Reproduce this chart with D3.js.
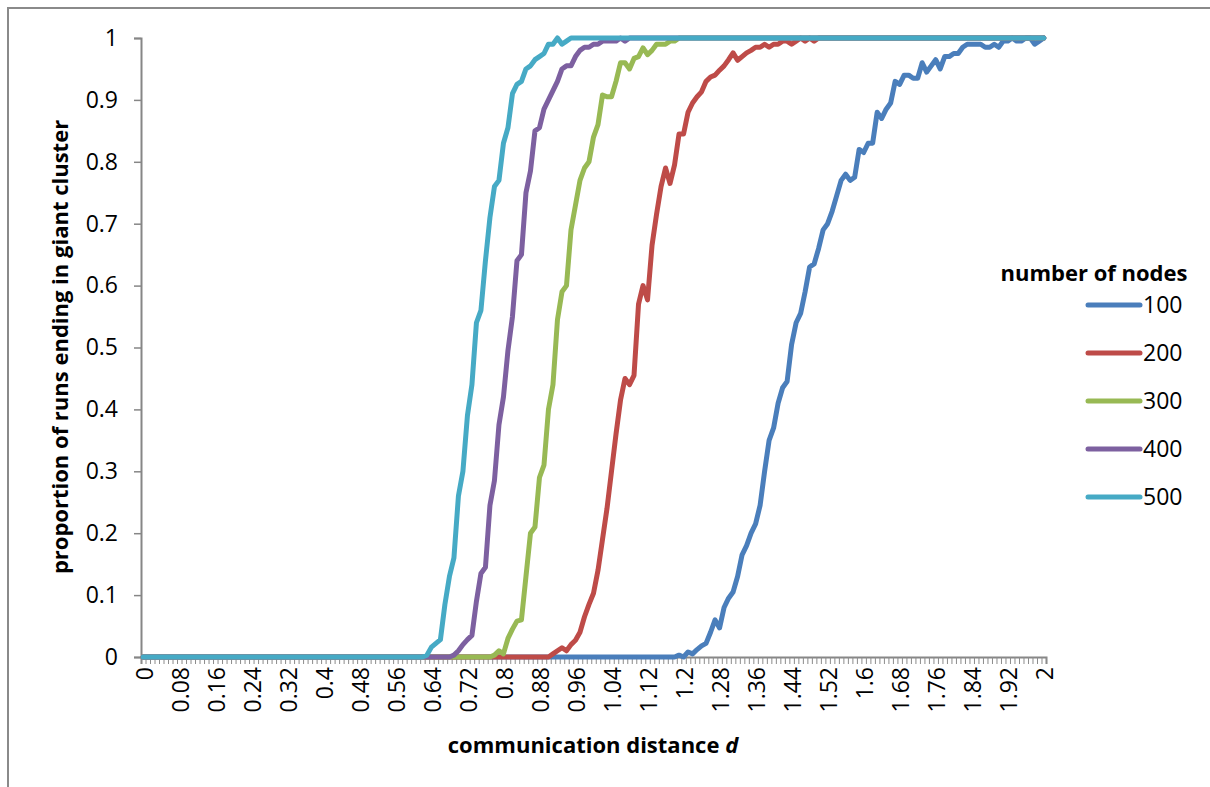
<!DOCTYPE html>
<html>
<head>
<meta charset="utf-8">
<script src="https://cdn.jsdelivr.net/npm/d3@7"></script>
<style>
  body { margin: 0; background: #fff; }
  text { font-family: "Open Sans", "Noto Sans", sans-serif; fill: #000; }
</style>
</head>
<body>
<svg id="chart" width="1210" height="787"></svg>
<script>
// x categories: communication distance d, 0 .. 2 in steps of 0.01
const distance = d3.range(201).map((i) => i / 100);
const yTicks = [0, 0.1, 0.2, 0.3, 0.4, 0.5, 0.6, 0.7, 0.8, 0.9, 1];
const nodeCounts = ['100', '200', '300', '400', '500'];
const colors = ['#4a7ebb', '#be4b48', '#98b954', '#7d60a0', '#46aac5'];

const nodes100 = [
  0,0,0,0,0,0,0,0,0,0,0,0,0,0,0,0,0,0,0,0,
  0,0,0,0,0,0,0,0,0,0,0,0,0,0,0,0,0,0,0,0,
  0,0,0,0,0,0,0,0,0,0,0,0,0,0,0,0,0,0,0,0,
  0,0,0,0,0,0,0,0,0,0,0,0,0,0,0,0,0,0,0,0,
  0,0,0,0,0,0,0,0,0,0,0,0,0,0,0,0,0,0,0,0,
  0,0,0,0,0,0,0,0,0,0,0,0,0,0,0,0,0,0,0,0.003,
  0,0.008,0.005,0.012,0.018,0.022,0.04,0.06,0.047,0.08,0.095,0.105,0.13,0.165,0.18,0.2,0.215,0.245,0.3,0.35,
  0.37,0.41,0.435,0.445,0.505,0.54,0.555,0.59,0.63,0.635,0.66,0.69,0.70,0.72,0.745,0.77,0.78,0.77,0.775,0.82,
  0.815,0.83,0.83,0.88,0.87,0.885,0.895,0.93,0.925,0.94,0.94,0.935,0.935,0.96,0.945,0.955,0.965,0.95,0.97,0.97,
  0.975,0.975,0.985,0.99,0.99,0.99,0.99,0.985,0.985,0.99,0.985,0.995,0.995,1,0.995,0.995,1,1,0.99,0.995,
  1
];

const nodes200 = [
  0,0,0,0,0,0,0,0,0,0,0,0,0,0,0,0,0,0,0,0,
  0,0,0,0,0,0,0,0,0,0,0,0,0,0,0,0,0,0,0,0,
  0,0,0,0,0,0,0,0,0,0,0,0,0,0,0,0,0,0,0,0,
  0,0,0,0,0,0,0,0,0,0,0,0,0,0,0,0,0,0,0,0,
  0,0,0,0,0,0,0,0,0,0,0,0.005,0.01,0.015,0.01,0.02,0.027,0.04,0.065,0.085,
  0.103,0.14,0.19,0.24,0.30,0.36,0.415,0.45,0.44,0.455,0.57,0.6,0.577,0.665,0.715,0.76,0.79,0.765,0.795,0.845,
  0.845,0.88,0.895,0.905,0.913,0.93,0.937,0.94,0.948,0.955,0.965,0.976,0.964,0.97,0.976,0.98,0.985,0.985,0.99,0.985,
  0.99,0.99,0.995,0.995,0.99,0.995,1,0.995,1,0.995,1,1,1,1,1,1,1,1,1,1,
  1,1,1,1,1,1,1,1,1,1,1,1,1,1,1,1,1,1,1,1,
  1,1,1,1,1,1,1,1,1,1,1,1,1,1,1,1,1,1,1,1,
  1
];

const nodes300 = [
  0,0,0,0,0,0,0,0,0,0,0,0,0,0,0,0,0,0,0,0,
  0,0,0,0,0,0,0,0,0,0,0,0,0,0,0,0,0,0,0,0,
  0,0,0,0,0,0,0,0,0,0,0,0,0,0,0,0,0,0,0,0,
  0,0,0,0,0,0,0,0,0,0,0,0,0,0,0,0,0,0,0.003,0.01,
  0.005,0.03,0.045,0.058,0.06,0.13,0.2,0.21,0.29,0.31,0.4,0.44,0.545,0.59,0.6,0.69,0.73,0.77,0.79,0.8,
  0.84,0.86,0.908,0.905,0.905,0.93,0.96,0.96,0.95,0.967,0.97,0.984,0.973,0.98,0.99,0.99,0.99,0.995,0.995,1,
  1,1,1,1,1,1,1,1,1,1,1,1,1,1,1,1,1,1,1,1,
  1,1,1,1,1,1,1,1,1,1,1,1,1,1,1,1,1,1,1,1,
  1,1,1,1,1,1,1,1,1,1,1,1,1,1,1,1,1,1,1,1,
  1,1,1,1,1,1,1,1,1,1,1,1,1,1,1,1,1,1,1,1,
  1
];

const nodes400 = [
  0,0,0,0,0,0,0,0,0,0,0,0,0,0,0,0,0,0,0,0,
  0,0,0,0,0,0,0,0,0,0,0,0,0,0,0,0,0,0,0,0,
  0,0,0,0,0,0,0,0,0,0,0,0,0,0,0,0,0,0,0,0,
  0,0,0,0,0,0,0,0,0,0.003,0.01,0.02,0.028,0.035,0.09,0.135,0.145,0.245,0.285,0.375,
  0.42,0.495,0.55,0.64,0.65,0.75,0.785,0.85,0.855,0.885,0.9,0.915,0.93,0.95,0.955,0.955,0.97,0.98,0.985,0.985,
  0.99,0.99,0.995,0.995,0.995,0.995,1,0.995,1,1,1,1,1,1,1,1,1,1,1,1,
  1,1,1,1,1,1,1,1,1,1,1,1,1,1,1,1,1,1,1,1,
  1,1,1,1,1,1,1,1,1,1,1,1,1,1,1,1,1,1,1,1,
  1,1,1,1,1,1,1,1,1,1,1,1,1,1,1,1,1,1,1,1,
  1,1,1,1,1,1,1,1,1,1,1,1,1,1,1,1,1,1,1,1,
  1
];

const nodes500 = [
  0,0,0,0,0,0,0,0,0,0,0,0,0,0,0,0,0,0,0,0,
  0,0,0,0,0,0,0,0,0,0,0,0,0,0,0,0,0,0,0,0,
  0,0,0,0,0,0,0,0,0,0,0,0,0,0,0,0,0,0,0,0,
  0,0,0,0.003,0.016,0.022,0.028,0.085,0.13,0.16,0.26,0.30,0.39,0.44,0.54,0.56,0.64,0.71,0.76,0.77,
  0.83,0.855,0.91,0.925,0.93,0.95,0.955,0.965,0.97,0.975,0.99,0.99,1,0.99,0.995,1,1,1,1,1,
  1,1,1,1,1,1,1,1,1,1,1,1,1,1,1,1,1,1,1,1,
  1,1,1,1,1,1,1,1,1,1,1,1,1,1,1,1,1,1,1,1,
  1,1,1,1,1,1,1,1,1,1,1,1,1,1,1,1,1,1,1,1,
  1,1,1,1,1,1,1,1,1,1,1,1,1,1,1,1,1,1,1,1,
  1,1,1,1,1,1,1,1,1,1,1,1,1,1,1,1,1,1,1,1,
  1
];

const series = [nodes100, nodes200, nodes300, nodes400, nodes500];

const svg = d3.select('#chart');
const plotLeft = 141, plotRight = 1046, plotTop = 38, plotBottom = 657;
const axisColor = '#868686';

// outer chart frame (only top and left edges are in view)
svg.append('rect')
   .attr('x', 8).attr('y', 8)
   .attr('width', 1400).attr('height', 1000)
   .attr('fill', 'none')
   .attr('stroke', '#8a8a8a')
   .attr('stroke-width', 2);

const x = d3.scalePoint()
            .domain(distance.map((d, i) => i))
            .range([plotLeft, plotRight])
            .padding(0.5);
const xEdge = d3.scaleLinear().domain([0, distance.length]).range([plotLeft, plotRight]);
const y = d3.scaleLinear().domain([0, 1]).range([plotBottom, plotTop]);

// y axis
const yAxis = svg.append('g')
   .attr('transform', `translate(${plotLeft},0)`)
   .call(d3.axisLeft(y).tickValues(yTicks).tickSize(7).tickPadding(16)
           .tickFormat((d) => String(d)));
yAxis.select('.domain').attr('stroke', axisColor).attr('stroke-width', 2);
yAxis.selectAll('.tick line').attr('stroke', axisColor).attr('stroke-width', 1.5);
yAxis.selectAll('.tick text').style('font-size', '23px');

// x axis: minor ticks between categories
const xTicks = svg.append('g')
   .attr('transform', `translate(0,${plotBottom})`)
   .call(d3.axisBottom(xEdge).tickValues(d3.range(distance.length + 1))
           .tickSize(7).tickFormat(''));
xTicks.select('.domain').attr('stroke', axisColor).attr('stroke-width', 2);
xTicks.selectAll('.tick line').attr('stroke', '#8c8c8c').attr('stroke-width', 1);

// x axis labels every 0.08
const labelIdx = distance.map((d, i) => i).filter((i) => i % 8 === 0);
svg.append('g')
   .selectAll('text')
   .data(labelIdx)
   .enter()
   .append('text')
   .attr('transform', (i) => `translate(${x(i) + 1},${plotBottom + 10}) rotate(-90)`)
   .attr('text-anchor', 'end')
   .attr('dy', '0.36em')
   .style('font-size', '23px')
   .text((i) => String(+distance[i].toFixed(2)));

// series lines
const line = d3.line()
               .x((v, i) => x(i))
               .y((v) => y(v));

svg.append('g')
   .selectAll('path')
   .data(series)
   .enter()
   .append('path')
   .attr('d', line)
   .attr('fill', 'none')
   .attr('stroke', (d, i) => colors[i])
   .attr('stroke-width', 5)
   .attr('stroke-linejoin', 'round')
   .attr('stroke-linecap', 'round');

// axis titles
svg.append('text')
   .attr('x', 593).attr('y', 753)
   .attr('text-anchor', 'middle')
   .style('font-size', '22px')
   .style('font-weight', 'bold')
   .text('communication distance ')
   .append('tspan')
   .style('font-style', 'italic')
   .text('d');

svg.append('text')
   .attr('transform', 'translate(68,347) rotate(-90)')
   .attr('text-anchor', 'middle')
   .style('font-size', '22px')
   .style('font-weight', 'bold')
   .text('proportion of runs ending in giant cluster');

// legend
const legend = svg.append('g');
legend.append('text')
   .attr('x', 1094).attr('y', 281)
   .attr('text-anchor', 'middle')
   .style('font-size', '22px')
   .style('font-weight', 'bold')
   .text('number of nodes');

const entry = legend.selectAll('.entry')
   .data(nodeCounts)
   .enter()
   .append('g')
   .attr('class', 'entry')
   .attr('transform', (d, i) => `translate(0,${305 + i * 48})`);
entry.append('line')
   .attr('x1', 1088).attr('x2', 1140)
   .attr('stroke', (d, i) => colors[i])
   .attr('stroke-width', 5)
   .attr('stroke-linecap', 'round');
entry.append('text')
   .attr('x', 1143).attr('dy', '0.36em')
   .style('font-size', '23px')
   .text((d) => d);
</script>
</body>
</html>
